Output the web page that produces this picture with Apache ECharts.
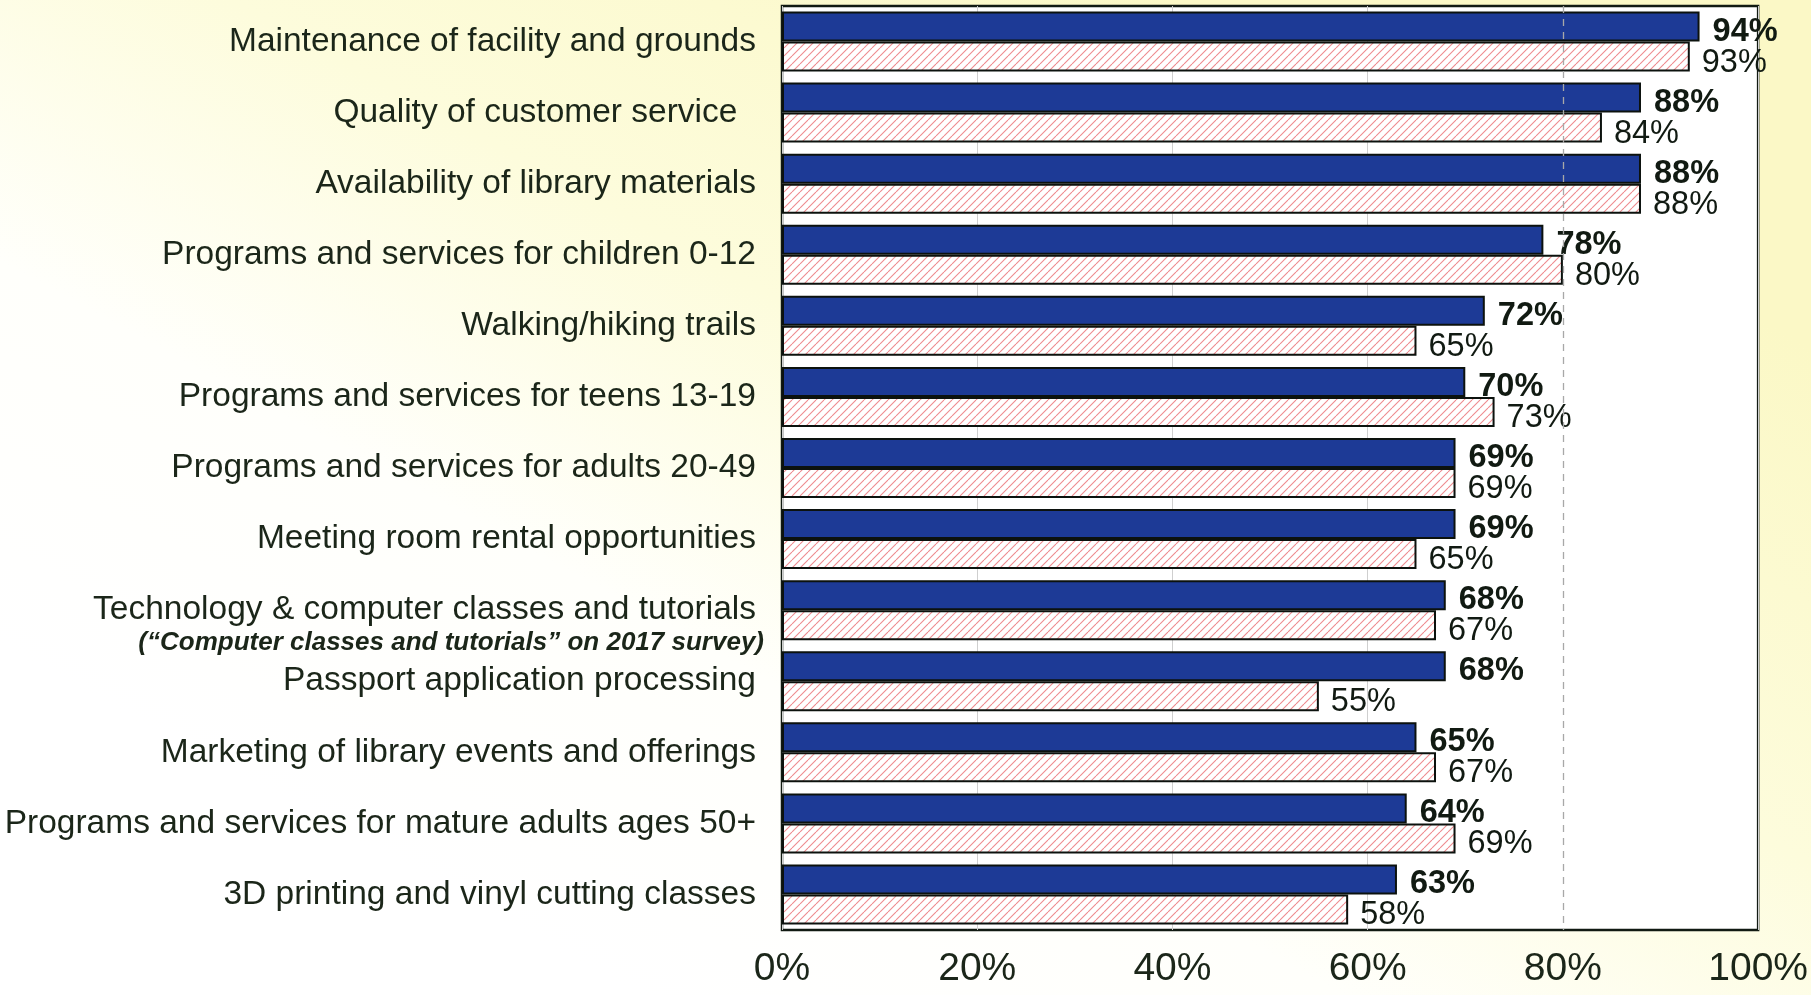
<!DOCTYPE html>
<html>
<head>
<meta charset="utf-8">
<script src="https://cdn.jsdelivr.net/npm/echarts@6/dist/echarts.min.js"></script>
<style>
  html, body { margin: 0; padding: 0; }
  #chart { width: 1811px; height: 995px; }
</style>
</head>
<body>
<div id="chart"></div>
<script>
// survey items, top to bottom
var categories = [
  "Maintenance of facility and grounds",
  "Quality of customer service  ",
  "Availability of library materials",
  "Programs and services for children 0-12",
  "Walking/hiking trails",
  "Programs and services for teens 13-19",
  "Programs and services for adults 20-49",
  "Meeting room rental opportunities",
  "Technology & computer classes and tutorials",
  "Passport application processing",
  "Marketing of library events and offerings",
  "Programs and services for mature adults ages 50+",
  "3D printing and vinyl cutting classes"
];
var subNote = "(\u201cComputer classes and tutorials\u201d on 2017 survey)";
var current = [94, 88, 88, 78, 72, 70, 69, 69, 68, 68, 65, 64, 63];
var previous = [93, 84, 88, 80, 65, 73, 69, 65, 67, 55, 67, 69, 58];
var xTicks = [0, 20, 40, 60, 80, 100];

var textColor = "#1b2619";

// pink diagonal hatch
function hatch() {
  var c = document.createElement("canvas");
  c.width = 8;
  c.height = 8;
  var ctx = c.getContext("2d");
  ctx.fillStyle = "#ffffff";
  ctx.fillRect(0, 0, 8, 8);
  ctx.strokeStyle = "#ee8a8e";
  ctx.lineWidth = 1.1;
  for (var k = -1; k <= 1; k++) {
    ctx.beginPath();
    ctx.moveTo(k * 8, 8);
    ctx.lineTo(k * 8 + 8, 0);
    ctx.stroke();
  }
  return c;
}

var chart = echarts.init(document.getElementById("chart"));
chart.setOption({
  backgroundColor: new echarts.graphic.LinearGradient(0.35, 1, 0.65, 0, [
    { offset: 0, color: "#ffffff" },
    { offset: 0.3, color: "#fffffb" },
    { offset: 0.6, color: "#fdfcdc" },
    { offset: 1, color: "#fbf8c6" }
  ]),
  animation: false,
  grid: {
    left: 782,
    right: 48,
    top: 6,
    bottom: 65,
    show: true,
    backgroundColor: "#ffffff",
    borderColor: "#111a12",
    borderWidth: 2.5
  },
  xAxis: {
    type: "value",
    min: xTicks[0],
    max: xTicks[xTicks.length - 1],
    interval: 20,
    axisLine: { show: false },
    axisTick: { show: false },
    axisLabel: {
      formatter: "{value}%",
      color: textColor,
      fontFamily: "Liberation Sans, Arial",
      fontSize: 39,
      margin: 20
    },
    splitLine: {
      show: true,
      lineStyle: {
        color: ["#cfcfcf", "#cfcfcf", "#cfcfcf", "#cfcfcf", "rgba(0,0,0,0)", "#cfcfcf"],
        width: 1
      }
    }
  },
  yAxis: {
    type: "category",
    inverse: true,
    data: categories,
    axisLine: { show: false },
    axisTick: { show: false },
    axisLabel: {
      color: textColor,
      fontFamily: "Liberation Sans, Arial",
      fontSize: 33.5,
      margin: 26,
      formatter: function (v) {
        if (v.indexOf("Technology") === 0) {
          return "{e|}\n{a|" + v + "}\n{b|" + subNote + "}";
        }
        return v;
      },
      rich: {
        e: { lineHeight: 30, fontSize: 10 },
        a: {
          fontSize: 33.5,
          lineHeight: 36,
          color: textColor,
          fontFamily: "Liberation Sans, Arial",
          align: "right"
        },
        b: {
          fontSize: 26,
          lineHeight: 30,
          fontWeight: "bold",
          fontStyle: "italic",
          color: textColor,
          fontFamily: "Liberation Sans, Arial",
          align: "right",
          padding: [0, -8, 0, 0]
        }
      }
    }
  },
  series: [
    {
      type: "line",
      data: [],
      z: 1,
      silent: true,
      markLine: {
        symbol: "none",
        silent: true,
        label: { show: false },
        lineStyle: { color: "#a8a8a8", type: [7, 6], width: 1.3 },
        data: [{ xAxis: xTicks[4] }]
      }
    },
    {
      name: "current",
      type: "bar",
      data: current,
      barWidth: 30,
      barGap: "0%",
      z: 3,
      itemStyle: {
        color: "#1d3a96",
        borderColor: "#0c120e",
        borderWidth: 2
      },
      label: {
        show: true,
        position: "right",
        distance: 13,
        formatter: "{c}%",
        color: "#111a12",
        fontFamily: "Liberation Sans, Arial",
        fontWeight: "bold",
        fontSize: 32.5,
        offset: [0, 5]
      }
    },
    {
      name: "previous",
      type: "bar",
      data: previous,
      barWidth: 30,
      z: 3,
      itemStyle: {
        color: { image: hatch(), repeat: "repeat" },
        borderColor: "#0c120e",
        borderWidth: 2
      },
      label: {
        show: true,
        position: "right",
        distance: 12,
        formatter: "{c}%",
        color: "#111a12",
        fontFamily: "Liberation Sans, Arial",
        fontSize: 32.5,
        offset: [0, 6]
      }
    }
  ]
});
</script>
</body>
</html>
